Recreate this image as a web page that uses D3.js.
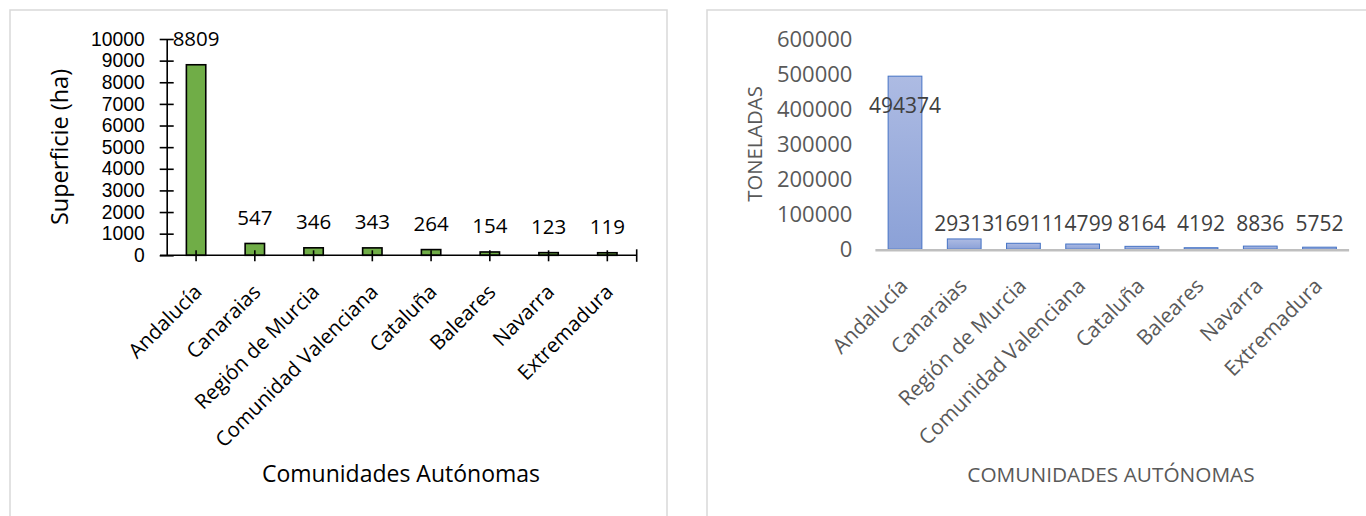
<!DOCTYPE html>
<html>
<head>
<meta charset="utf-8">
<script src="https://cdn.jsdelivr.net/npm/d3@7"></script>
<style>
  html, body { margin: 0; padding: 0; background: #ffffff; }
  svg { display: block; font-family: "Open Sans", "Noto Sans", sans-serif; }
</style>
</head>
<body>
<svg id="chart" width="1366" height="516"></svg>
<script>
// Categorías (comunidades autónomas)
const regiones = ["Andalucía", "Canaraias", "Región de Murcia", "Comunidad Valenciana",
                  "Cataluña", "Baleares", "Navarra", "Extremadura"];
// Superficie cultivada (ha)
const superficie = [8809, 547, 346, 343, 264, 154, 123, 119];
// Producción (toneladas)
const toneladas = [494374, 29313, 16911, 14799, 8164, 4192, 8836, 5752];
// Marcas del eje vertical
const ticksSuperficie = [0, 1000, 2000, 3000, 4000, 5000, 6000, 7000, 8000, 9000, 10000];
const ticksToneladas = [0, 100000, 200000, 300000, 400000, 500000, 600000];

const svg = d3.select("#chart");
const fmt = d3.format("d");

// Marcos de cada gráfico
svg.append("rect").attr("x", 10).attr("y", 10).attr("width", 657).attr("height", 520)
  .attr("fill", "none").attr("stroke", "#d9d9d9").attr("stroke-width", 1.5);
svg.append("rect").attr("x", 707).attr("y", 10).attr("width", 680).attr("height", 520)
  .attr("fill", "none").attr("stroke", "#d9d9d9").attr("stroke-width", 1.5);

// ---------- Gráfico 1: superficie ----------
{
  const x = d3.scaleBand().domain(regiones).range([166.7, 636.7])
    .paddingInner(0.67).paddingOuter(0.335);
  const y = d3.scaleLinear().domain([0, 10000]).range([255.3, 39]);
  const g = svg.append("g");
  const y0 = y(0);

  // Barras
  g.selectAll("rect.bar").data(superficie).join("rect")
    .attr("class", "bar")
    .attr("x", (d, i) => x(regiones[i]))
    .attr("width", x.bandwidth())
    .attr("y", d => y(d))
    .attr("height", d => y0 - y(d))
    .attr("fill", "#70ad47").attr("stroke", "#000").attr("stroke-width", 1.6);

  // Eje Y (marcas muy juntas: fuente de interlineado compacto)
  const yAxis = d3.axisLeft(y).tickValues(ticksSuperficie).tickFormat(fmt)
    .tickSize(0).tickPadding(22);
  const ya = g.append("g").attr("transform", "translate(166.7,0)").call(yAxis);
  ya.select(".domain").attr("stroke", "#000").attr("stroke-width", 1.6);
  ya.selectAll(".tick line").remove();
  ya.selectAll(".tick").append("line").attr("x1", -7).attr("x2", 7)
    .attr("stroke", "#000").attr("stroke-width", 1.6);
  ya.selectAll(".tick text").attr("fill", "#000").style("font-size", "19.3px")
    .style("font-family", "'Liberation Sans', Arial, sans-serif");

  // Eje X
  g.append("line").attr("x1", 160).attr("x2", 636.7).attr("y1", y0).attr("y2", y0)
    .attr("stroke", "#000").attr("stroke-width", 1.6);
  g.selectAll("line.xt").data(regiones).join("line").attr("class", "xt")
    .attr("x1", d => x(d) + x.bandwidth() / 2).attr("x2", d => x(d) + x.bandwidth() / 2)
    .attr("y1", y0 - 5).attr("y2", y0 + 6).attr("stroke", "#000").attr("stroke-width", 1.6);
  g.append("line").attr("x1", 636.7).attr("x2", 636.7).attr("y1", y0 - 6).attr("y2", y0 + 6.5)
    .attr("stroke", "#000").attr("stroke-width", 1.6);

  // Etiquetas de categoría
  g.selectAll("text.cat").data(regiones).join("text").attr("class", "cat")
    .attr("transform", d => `translate(${x(d) + x.bandwidth() / 2 + 7},${y0 + 38}) rotate(-45)`)
    .attr("text-anchor", "end").attr("fill", "#000").style("font-size", "20.5px")
    .text(d => d);

  // Valores
  g.selectAll("text.val").data(superficie).join("text").attr("class", "val")
    .attr("x", (d, i) => x(regiones[i]) + x.bandwidth() / 2)
    .attr("y", d => y(d) - 18.5)
    .attr("text-anchor", "middle").attr("fill", "#000").style("font-size", "20.5px")
    .text(d => fmt(d));

  // Títulos de ejes
  g.append("text").attr("x", 401).attr("y", 482).attr("text-anchor", "middle")
    .attr("fill", "#000").style("font-size", "23px").text("Comunidades Autónomas");
  g.append("text").attr("transform", "translate(68,147) rotate(-90)").attr("text-anchor", "middle")
    .attr("fill", "#000").style("font-size", "23.5px").text("Superficie (ha)");
}

// ---------- Gráfico 2: toneladas ----------
{
  const x = d3.scaleBand().domain(regiones).range([875.4, 1349.1])
    .paddingInner(0.43).paddingOuter(0.215);
  const y = d3.scaleLinear().domain([0, 600000]).range([249.2, 39.2]);
  const g = svg.append("g");
  const y0 = y(0);

  const defs = svg.append("defs");
  const grad = defs.append("linearGradient").attr("id", "azul")
    .attr("x1", 0).attr("y1", 0).attr("x2", 0).attr("y2", 1);
  grad.append("stop").attr("offset", "0%").attr("stop-color", "#adbbe3");
  grad.append("stop").attr("offset", "100%").attr("stop-color", "#8ba1d7");

  // Eje Y (solo etiquetas)
  const yAxis = d3.axisLeft(y).tickValues(ticksToneladas).tickFormat(fmt)
    .tickSize(0).tickPadding(23);
  const ya = g.append("g").attr("transform", "translate(875.4,0)").call(yAxis);
  ya.select(".domain").remove();
  ya.selectAll(".tick text").attr("fill", "#595959").style("font-size", "22px")
    .style("font-family", "'Open Sans', sans-serif");

  // Barras
  g.selectAll("rect.bar").data(toneladas).join("rect")
    .attr("class", "bar")
    .attr("x", (d, i) => x(regiones[i]))
    .attr("width", x.bandwidth())
    .attr("y", d => y(d))
    .attr("height", d => y0 - y(d))
    .attr("fill", "url(#azul)").attr("stroke", "#4472c4").attr("stroke-width", 1);

  // Eje X
  g.append("line").attr("x1", 875.4).attr("x2", 1349.1).attr("y1", y0 + 1).attr("y2", y0 + 1)
    .attr("stroke", "#bfbfbf").attr("stroke-width", 2.5);

  // Etiquetas de categoría
  g.selectAll("text.cat").data(regiones).join("text").attr("class", "cat")
    .attr("transform", d => `translate(${x(d) + x.bandwidth() / 2 + 4},${y0 + 38}) rotate(-45)`)
    .attr("text-anchor", "end").attr("fill", "#595959").style("font-size", "21px")
    .text(d => d);

  // Valores
  const maxT = d3.max(toneladas);
  g.selectAll("text.val").data(toneladas).join("text").attr("class", "val")
    .attr("x", (d, i) => x(regiones[i]) + x.bandwidth() / 2)
    .attr("y", d => d === maxT ? y(d) + 37 : Math.min(y(d) - 7, y0 - 18))
    .attr("text-anchor", "middle").attr("fill", "#404040").style("font-size", "21px")
    .text(d => fmt(d));

  // Títulos de ejes
  g.append("text").attr("x", 1111).attr("y", 482).attr("text-anchor", "middle")
    .attr("fill", "#595959").style("font-size", "20.8px").text("COMUNIDADES AUTÓNOMAS");
  g.append("text").attr("transform", "translate(762,144) rotate(-90)").attr("text-anchor", "middle")
    .attr("fill", "#595959").style("font-size", "20.3px").text("TONELADAS");
}
</script>
</body>
</html>
